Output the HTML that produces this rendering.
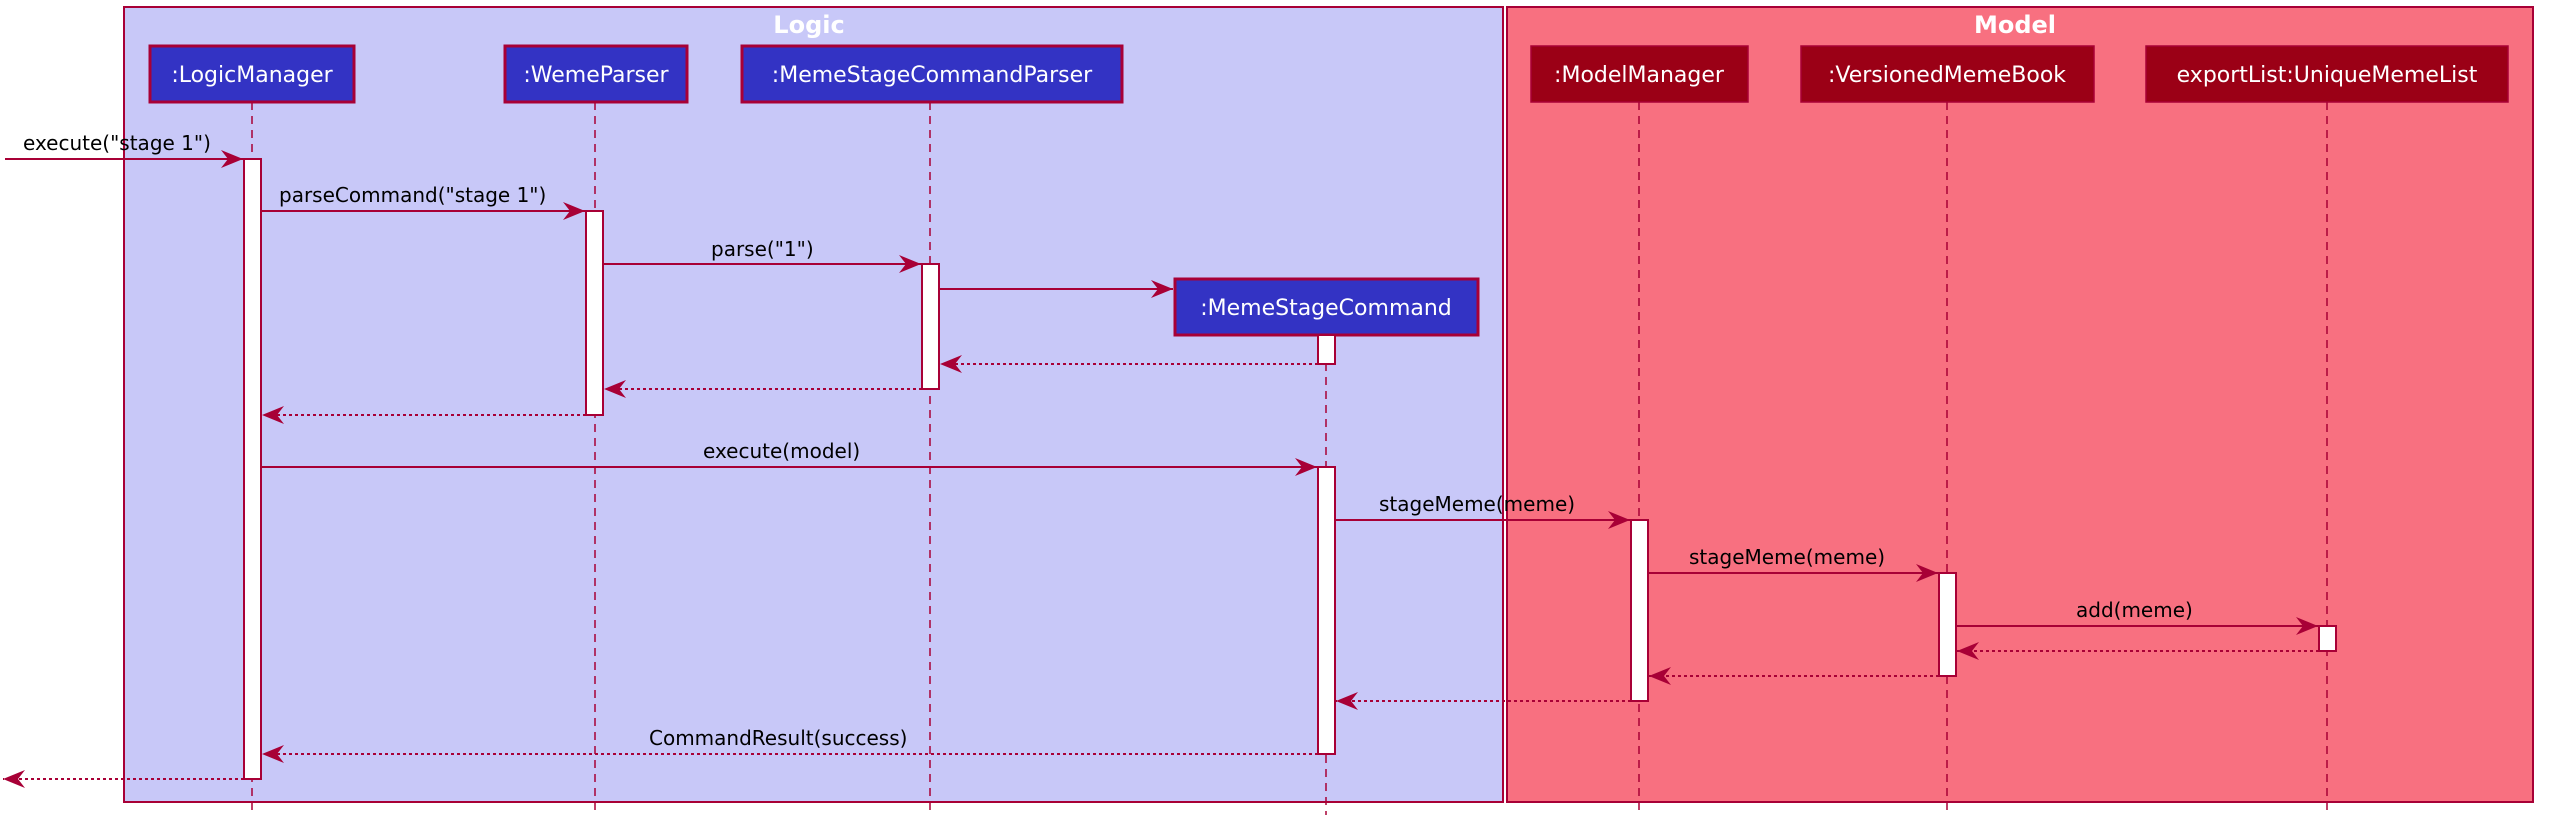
<!DOCTYPE html>
<html><head><meta charset="utf-8"><style>
html,body{margin:0;padding:0;background:#fff;}
svg{display:block;}
text{font-family:"DejaVu Sans","Liberation Sans",sans-serif;}
</style></head><body>
<svg width="2550" height="831" viewBox="0 0 2550 831" xmlns="http://www.w3.org/2000/svg">
<defs>
<marker id="ah" markerWidth="24" markerHeight="20" refX="22" refY="10" orient="auto" markerUnits="userSpaceOnUse">
<polygon points="0,1 22,10 0,19 7,10" fill="#A80036"/>
</marker>
</defs>
<!-- frames -->
<rect x="124" y="7" width="1379" height="795" fill="#C8C8F8" stroke="#A80036" stroke-width="2"/>
<rect x="1507" y="7" width="1026" height="795" fill="#F87080" stroke="#A80036" stroke-width="2"/>
<text x="809" y="33" font-size="24" font-weight="bold" fill="#fff" text-anchor="middle">Logic</text>
<text x="2015" y="33" font-size="24" font-weight="bold" fill="#fff" text-anchor="middle">Model</text>

<!-- lifelines -->
<g stroke="#A80036" stroke-width="1.5" stroke-dasharray="8,6">
<line x1="252" y1="102" x2="252" y2="815"/>
<line x1="595" y1="102" x2="595" y2="815"/>
<line x1="930" y1="102" x2="930" y2="815"/>
<line x1="1326" y1="335" x2="1326" y2="815"/>
<line x1="1639" y1="102" x2="1639" y2="815"/>
<line x1="1947" y1="102" x2="1947" y2="815"/>
<line x1="2327" y1="102" x2="2327" y2="815"/>
</g>

<!-- participants -->
<g stroke="#A80036" stroke-width="3">
<rect x="150" y="46" width="204" height="56" fill="#3333C4"/>
<rect x="505" y="46" width="182" height="56" fill="#3333C4"/>
<rect x="742" y="46" width="380" height="56" fill="#3333C4"/>
<rect x="1175" y="279" width="303" height="56" fill="#3333C4"/>
</g>
<g stroke="#A80036" stroke-width="1.5">
<rect x="1531" y="46" width="217" height="56" fill="#9B0016"/>
<rect x="1801" y="46" width="293" height="56" fill="#9B0016"/>
<rect x="2146" y="46" width="362" height="56" fill="#9B0016"/>
</g>
<g fill="#fff" font-size="22" text-anchor="middle">
<text x="252" y="82">:LogicManager</text>
<text x="596" y="82">:WemeParser</text>
<text x="932" y="82">:MemeStageCommandParser</text>
<text x="1326" y="315">:MemeStageCommand</text>
<text x="1639" y="82">:ModelManager</text>
<text x="1947" y="82">:VersionedMemeBook</text>
<text x="2327" y="82">exportList:UniqueMemeList</text>
</g>

<!-- activations -->
<g fill="#fff" stroke="#A80036" stroke-width="2">
<rect x="244" y="159" width="17" height="620"/>
<rect x="586" y="211" width="17" height="204"/>
<rect x="922" y="264" width="17" height="125"/>
<rect x="1318" y="335" width="17" height="29"/>
<rect x="1318" y="467" width="17" height="287"/>
<rect x="1631" y="520" width="17" height="181"/>
<rect x="1939" y="573" width="17" height="103"/>
<rect x="2319" y="626" width="17" height="25"/>
</g>

<!-- sync messages -->
<g stroke="#A80036" stroke-width="2" marker-end="url(#ah)">
<line x1="5" y1="159" x2="243" y2="159"/>
<line x1="261" y1="211" x2="585" y2="211"/>
<line x1="603" y1="264" x2="921" y2="264"/>
<line x1="939" y1="289" x2="1173" y2="289"/>
<line x1="261" y1="467" x2="1317" y2="467"/>
<line x1="1335" y1="520" x2="1630" y2="520"/>
<line x1="1648" y1="573" x2="1938" y2="573"/>
<line x1="1956" y1="626" x2="2318" y2="626"/>
</g>
<!-- returns -->
<g stroke="#A80036" stroke-width="2" stroke-dasharray="3,3" marker-end="url(#ah)">
<line x1="1318" y1="364" x2="940" y2="364"/>
<line x1="922" y1="389" x2="604" y2="389"/>
<line x1="586" y1="415" x2="262" y2="415"/>
<line x1="2319" y1="651" x2="1957" y2="651"/>
<line x1="1939" y1="676" x2="1649" y2="676"/>
<line x1="1631" y1="701" x2="1336" y2="701"/>
<line x1="1318" y1="754" x2="262" y2="754"/>
<line x1="244" y1="779" x2="3" y2="779"/>
</g>

<!-- labels -->
<g fill="#000" font-size="20">
<text x="23" y="150">execute("stage 1")</text>
<text x="279" y="202">parseCommand("stage 1")</text>
<text x="711" y="256">parse("1")</text>
<text x="703" y="458">execute(model)</text>
<text x="1379" y="511">stageMeme(meme)</text>
<text x="1689" y="564">stageMeme(meme)</text>
<text x="2076" y="617">add(meme)</text>
<text x="649" y="745">CommandResult(success)</text>
</g>
</svg>
</body></html>
